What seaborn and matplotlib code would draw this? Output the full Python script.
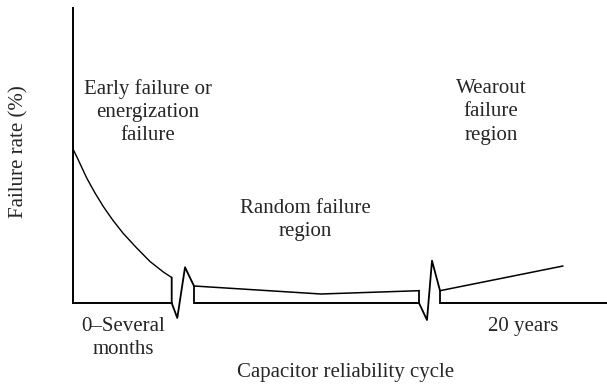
import matplotlib
matplotlib.use("Agg")
import matplotlib.pyplot as plt
import seaborn as sns
import pandas as pd

# Early (infant) failure curve: time position vs failure rate
early_t = [0.0, 0.53, 1.37, 2.2, 3.03, 3.97, 5.03, 6.37, 7.7, 9.03, 9.87]
early_rate = [15.4, 14.3, 12.5, 11.0, 9.65, 8.3, 6.95, 5.5, 4.15, 3.1, 2.55]

# Random failure region (nearly flat)
random_t = [12.1, 24.8, 34.6]
random_rate = [1.7, 0.9, 1.23]

# Wearout failure region (rising)
wearout_t = [36.7, 49.0]
wearout_rate = [1.23, 3.7]

# Time-axis break marks (zig-zags between regions)
break1_t = [9.87, 9.87, 10.43, 11.2, 12.1, 12.1]
break1_rate = [2.55, 0.0, -1.5, 3.57, 1.7, 0.0]
break2_t = [34.6, 34.6, 35.4, 35.9, 36.7, 36.7]
break2_rate = [1.23, 0.0, -1.7, 4.23, 1.23, 0.0]

# Baseline pieces of the broken time axis
axis_pieces = [(0.0, 9.87), (12.1, 34.6), (36.7, 53.4)]

region_labels = ["Early failure or\nenergization\nfailure",
                 "Random failure\nregion",
                 "Wearout\nfailure\nregion"]
time_labels = ["0\u2013Several\nmonths", "20 years"]
x_title = "Capacitor reliability cycle"
y_title = "Failure rate (%)"

sns.set_style("white")
plt.rcParams["font.family"] = ["Liberation Serif", "DejaVu Serif"]

W, H = 607, 386
fig = plt.figure(figsize=(W / 100, H / 100), dpi=100)
x_max, y_max = 53.4, 29.5
ax = fig.add_axes([73 / W, (H - 303) / H, (W - 73) / W, (303 - 8) / H])
ax.set_xlim(0, x_max)
ax.set_ylim(0, y_max)
ax.set_xticks([])
ax.set_yticks([])
for side in ("top", "right", "bottom"):
    ax.spines[side].set_visible(False)
ax.spines["left"].set_linewidth(1.4)
ax.spines["left"].set_color("black")

def seg(xs, ys, lw):
    df = pd.DataFrame({"t": xs, "r": ys})
    sns.lineplot(data=df, x="t", y="r", sort=False, estimator=None,
                 color="black", lw=lw, ax=ax, clip_on=False)

seg(early_t, early_rate, 1.0)
seg(random_t, random_rate, 1.1)
seg(wearout_t, wearout_rate, 1.1)
seg(break1_t, break1_rate, 1.3)
seg(break2_t, break2_rate, 1.3)
for a, b in axis_pieces:
    seg([a, b], [0, 0], 1.4)

ax.set_xlabel("")
ax.set_ylabel("")

fs = 15
ls = 1.3
ax.text(7.45, 19.1, region_labels[0], ha="center", va="center",
        multialignment="center", fontsize=fs, linespacing=ls)
ax.text(23.2, 8.3, region_labels[1], ha="center", va="center",
        multialignment="center", fontsize=fs, linespacing=ls)
ax.text(41.8, 19.1, region_labels[2], ha="center", va="center",
        multialignment="center", fontsize=fs, linespacing=ls)
ax.text(5.0, -3.5, time_labels[0], ha="center", va="center",
        multialignment="center", fontsize=fs, linespacing=ls, clip_on=False)
ax.text(45.0, -2.3, time_labels[1], ha="center", va="center",
        fontsize=fs, clip_on=False)
ax.text(27.3, -7.0, x_title, ha="center", va="center",
        fontsize=fs, clip_on=False)
fig.text(18.6 / W, 1 - 152 / H, y_title, rotation=90, ha="center",
         va="center", fontsize=fs)

fig.savefig("out.png", dpi=100)
